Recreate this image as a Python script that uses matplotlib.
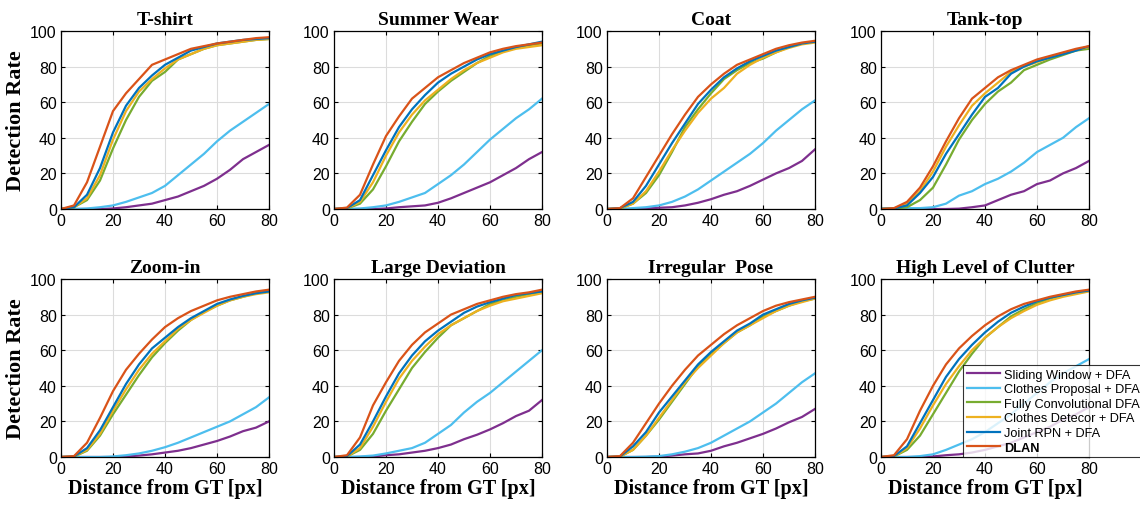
import matplotlib
matplotlib.use("Agg")
import matplotlib.pyplot as plt

# ---------------- data ----------------
x = [0, 5, 10, 15, 20, 25, 30, 35, 40, 45, 50, 55, 60, 65, 70, 75, 80]

methods = ["Sliding Window + DFA", "Clothes Proposal + DFA", "Fully Convolutional DFA",
           "Clothes Detecor + DFA", "Joint RPN + DFA", "DLAN"]
colors = ["#7E2F8E", "#4DBEEE", "#77AC30", "#EDB120", "#0072BD", "#D95319"]

titles = ["T-shirt", "Summer Wear", "Coat", "Tank-top",
          "Zoom-in", "Large Deviation", "Irregular  Pose", "High Level of Clutter"]

# order per panel: sliding, proposal, fully conv, detector, joint rpn, dlan
tshirt_sliding = [0, 0, 0, 0, 0.3, 1, 2, 3, 5, 7, 10, 13, 17, 22, 28, 32, 36]
tshirt_proposal = [0, 0, 0.3, 1, 2, 4, 6.5, 9, 13, 19, 25, 31, 38, 44, 49, 54, 59]
tshirt_fcn = [0, 1, 5, 16, 34, 50, 63, 72, 77, 84, 87, 90, 92, 93, 94, 95, 95.5]
tshirt_detector = [0, 1, 6, 19, 39, 55, 66, 73, 79, 84, 87, 90, 92, 93, 94, 95, 95.5]
tshirt_rpn = [0, 1, 8, 23, 43, 58, 68, 75, 81, 85, 89, 91, 93, 94, 95, 95.5, 96]
tshirt_dlan = [0, 2, 15, 35, 55, 65, 73, 81, 84, 87, 90, 91.5, 93, 94, 95, 96, 96.5]

summer_sliding = [0, 0, 0, 0, 0.3, 1, 1.5, 2, 3.5, 6, 9, 12, 15, 19, 23, 28, 32]
summer_proposal = [0, 0, 0.3, 1, 2, 4, 6.5, 9, 14, 19, 25, 32, 39, 45, 51, 56, 62]
summer_fcn = [0, 0.3, 3, 11, 24, 38, 49, 59, 66, 72, 77, 82, 86, 88.5, 90.5, 92, 93]
summer_detector = [0, 0.3, 4, 15, 30, 43, 53, 61, 67, 73, 78, 82, 85, 88, 90, 91, 92]
summer_rpn = [0, 0.5, 5, 19, 33, 46, 56, 64, 71, 76, 80, 84, 87, 89, 91, 92.5, 94]
summer_dlan = [0, 0.8, 8, 25, 41, 52, 62, 68, 74, 78, 82, 85, 88, 90, 91.5, 92.5, 93.5]

coat_sliding = [0, 0, 0, 0.3, 0.7, 1, 2, 3.5, 5.5, 8, 10, 13, 16.5, 20, 23, 27, 33.5]
coat_proposal = [0, 0, 0.5, 1, 2, 4, 7, 11, 16, 21, 26, 31, 37, 44, 50, 56, 61]
coat_fcn = [0, 0.3, 3, 9, 19, 32, 46, 56, 65, 73, 78, 82, 84.5, 88, 91, 93, 94]
coat_detector = [0, 0.3, 3, 10, 21, 33, 44, 54, 62, 68, 76, 81, 85, 88, 90.5, 92.5, 93.5]
coat_rpn = [0, 0.5, 4, 13, 25, 37, 48, 59, 67, 74, 79, 83, 86, 89, 91, 93, 94]
coat_dlan = [0, 0.5, 6, 18, 30, 42, 53, 63, 70, 76, 81, 84, 87, 90, 92, 93.5, 94.5]

tank_sliding = [0, 0, 0, 0, 0, 0, 0.2, 1, 2, 5, 8, 10, 14, 16, 20, 23, 27]
tank_proposal = [0.5, 0.5, 0.5, 0.5, 1, 3, 7.5, 10, 14, 17, 21, 26, 32, 36, 40, 46, 51]
tank_fcn = [0, 0.2, 1, 5, 12, 25, 39, 50, 59, 66, 71, 78, 81, 84, 86.5, 89, 90]
tank_detector = [0, 0.3, 3, 10, 21, 35, 47, 58, 65, 71, 77, 80, 82.5, 85, 87.5, 89.5, 91]
tank_rpn = [0, 0.3, 2, 9, 18, 31, 42, 53, 63, 68, 76, 80, 83, 85, 87, 89, 91.5]
tank_dlan = [0, 0.5, 4, 12, 24, 38, 51, 62, 68, 74, 78, 81, 84, 86, 88, 90, 91.5]

zoom_sliding = [0, 0, 0, 0, 0, 0.3, 0.8, 1.5, 2.5, 3.5, 5, 7, 9, 11.5, 14.5, 16.5, 20]
zoom_proposal = [0, 0, 0, 0, 0.3, 1, 2, 3.5, 5.5, 8, 11, 14, 17, 20, 24, 28, 33.5]
zoom_fcn = [0, 0.2, 3.5, 12, 24, 35, 46, 56, 64, 71, 77, 81.5, 85, 88, 90, 92, 93]
zoom_detector = [0, 0.2, 4, 13, 26, 38, 49, 58, 65, 72, 77, 81, 85, 88, 90, 91.5, 92.5]
zoom_rpn = [0, 0.3, 5, 15, 28, 41, 52, 61, 67, 73, 78, 82, 86, 88.5, 90.5, 92, 93]
zoom_dlan = [0, 0.5, 8, 22, 37, 49, 58, 66, 73, 78, 82, 85, 88, 90, 91.5, 93, 94]

large_sliding = [0, 0, 0, 0.3, 1, 1.5, 2.5, 3.5, 5, 7, 10, 12.5, 15.5, 19, 23, 26, 32]
large_proposal = [0, 0, 0.3, 0.8, 2, 3.5, 5, 8, 13, 18, 25, 31, 36, 42, 48, 54, 60]
large_fcn = [0, 0.3, 4, 13, 26, 38, 50, 59, 67, 74, 78, 82, 86, 88, 90, 91.5, 92.5]
large_detector = [0, 0.3, 5, 17, 31, 44, 54, 62, 69, 74, 78, 82, 85, 87.5, 89, 90.5, 92]
large_rpn = [0, 0.5, 7, 20, 34, 47, 57, 65, 71, 76, 81, 84.5, 87, 89, 91, 92, 93]
large_dlan = [0, 1, 11, 29, 42, 54, 63, 70, 75, 80, 83, 86, 88, 90, 91.5, 92.5, 94]

pose_sliding = [0, 0, 0, 0, 0.3, 0.8, 1.5, 2, 3.5, 6, 8, 10.5, 13, 16, 19.5, 22.5, 27]
pose_proposal = [0, 0, 0, 0.2, 0.5, 1.5, 3, 5, 8, 12, 16, 20, 25, 30, 36, 42, 47]
pose_fcn = [0, 0.2, 4, 12, 21, 31, 41, 51, 58, 64, 70, 74, 79, 82, 85, 87.5, 89]
pose_detector = [0, 0.2, 4, 12, 22, 32, 42, 50, 57, 64, 70, 74, 78, 82, 85, 87, 89]
pose_rpn = [0, 0.3, 6, 14, 25, 34, 43, 52, 59, 65, 71, 75, 80, 83, 86, 88, 89.5]
pose_dlan = [0, 0.5, 8, 19, 30, 40, 49, 57, 63, 69, 74, 78, 82, 85, 87, 88.5, 90]

clutter_sliding = [0, 0, 0, 0, 0.3, 1, 1.5, 2.5, 4, 6, 8, 11, 14, 17, 21, 24, 28]
clutter_proposal = [0, 0, 0, 0.5, 1.5, 4, 7, 10, 14, 19, 24, 30, 36, 42, 47, 51, 55]
clutter_fcn = [0, 0.3, 4, 12, 24, 36, 48, 58, 67, 73, 79, 83, 86.5, 89, 91, 92.5, 93.5]
clutter_detector = [0, 0.3, 5, 16, 29, 41, 51, 60, 67, 73, 78, 82, 85.5, 88, 90, 91.5, 93]
clutter_rpn = [0, 0.5, 6, 19, 32, 45, 55, 63, 70, 76, 81, 84.5, 87.5, 89.5, 91, 92.5, 93.5]
clutter_dlan = [0, 1, 10, 26, 40, 52, 61, 68, 74, 79, 83, 86, 88, 90, 91.5, 93, 94]

panels = [
    [tshirt_sliding, tshirt_proposal, tshirt_fcn, tshirt_detector, tshirt_rpn, tshirt_dlan],
    [summer_sliding, summer_proposal, summer_fcn, summer_detector, summer_rpn, summer_dlan],
    [coat_sliding, coat_proposal, coat_fcn, coat_detector, coat_rpn, coat_dlan],
    [tank_sliding, tank_proposal, tank_fcn, tank_detector, tank_rpn, tank_dlan],
    [zoom_sliding, zoom_proposal, zoom_fcn, zoom_detector, zoom_rpn, zoom_dlan],
    [large_sliding, large_proposal, large_fcn, large_detector, large_rpn, large_dlan],
    [pose_sliding, pose_proposal, pose_fcn, pose_detector, pose_rpn, pose_dlan],
    [clutter_sliding, clutter_proposal, clutter_fcn, clutter_detector, clutter_rpn, clutter_dlan],
]

xticks = [0, 20, 40, 60, 80]
yticks = [0, 20, 40, 60, 80, 100]

# ---------------- figure ----------------
W, H = 1140, 506
fig = plt.figure(figsize=(W / 100, H / 100), dpi=100)

col_left = [61, 334, 607, 881]
row_top = [32, 280]
aw, ah = 208, 178

serif = "Liberation Serif"
sans = "Liberation Sans"

axes = []
for i, series in enumerate(panels):
    r, c = divmod(i, 4)
    left = col_left[c] / W
    bottom = (H - row_top[r] - ah) / H
    ax = fig.add_axes([left, bottom, aw / W, ah / H])
    axes.append(ax)
    for ys, col, lab in zip(series, colors, methods):
        ax.plot(x, ys, color=col, lw=1.6, label=lab)
    ax.set_xlim(0, 80)
    ax.set_ylim(0, 100)
    ax.set_xticks(xticks)
    ax.set_yticks(yticks)
    ax.grid(True, color="#dcdcdc", lw=0.8)
    ax.set_axisbelow(True)
    ax.tick_params(direction="in", length=3, width=0.8, labelsize=11.5,
                   top=True, right=True, pad=3)
    for lab in ax.get_xticklabels() + ax.get_yticklabels():
        lab.set_fontfamily(sans)
    for s in ax.spines.values():
        s.set_linewidth(0.9)
        s.set_color("black")
    ax.set_title(titles[i], fontfamily=serif, fontweight="bold", fontsize=14, pad=5)
    if c == 0:
        ax.set_ylabel("Detection Rate", fontfamily=serif, fontweight="bold",
                      fontsize=16, labelpad=3)
    if r == 1:
        ax.set_xlabel("Distance from GT [px]", fontfamily=serif, fontweight="bold",
                      fontsize=14.5, labelpad=1)

ax = axes[-1]
handles, labels = ax.get_legend_handles_labels()
leg = fig.legend(handles, labels, loc="upper left",
                 bbox_to_anchor=(963 / W, (H - 366) / H),
                 prop={"family": sans, "size": 9.2},
                 frameon=True, fancybox=False, shadow=False,
                 borderpad=0.3, labelspacing=0.2, handlelength=2.6,
                 handletextpad=0.3, borderaxespad=0)
leg.get_frame().set_edgecolor("black")
leg.get_frame().set_linewidth(0.8)
for t in leg.get_texts():
    if t.get_text() == "DLAN":
        t.set_fontweight("bold")

fig.savefig("out.png", dpi=100)
